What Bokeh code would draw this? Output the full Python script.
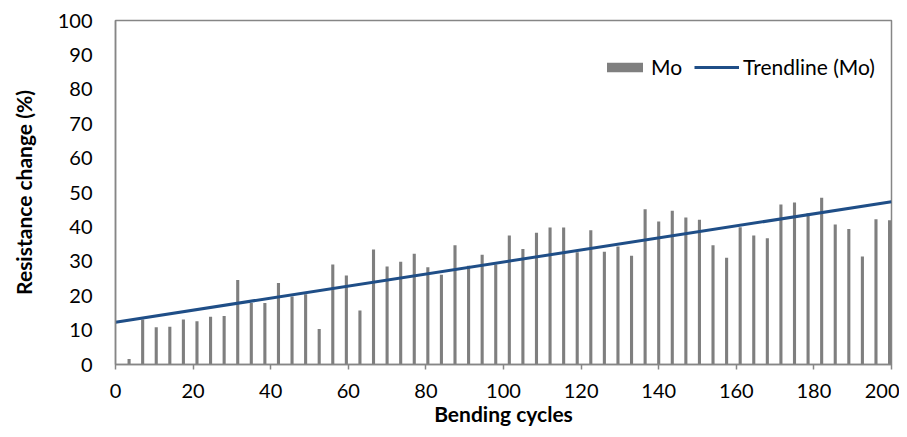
from bokeh.plotting import figure
from bokeh.models import Range1d, Legend, LegendItem, FixedTicker, ColumnDataSource
from bokeh.embed import file_html
from bokeh.resources import INLINE

# --- data ---
cycles = [3.5, 7.0, 10.5, 14.0, 17.5, 21.0, 24.5, 28.0, 31.5, 35.0,
          38.5, 42.0, 45.5, 49.0, 52.5, 56.0, 59.5, 63.0, 66.5, 70.0,
          73.5, 77.0, 80.5, 84.0, 87.5, 91.0, 94.5, 98.0, 101.5, 105.0,
          108.5, 112.0, 115.5, 119.0, 122.5, 126.0, 129.5, 133.0, 136.5, 140.0,
          143.5, 147.0, 150.5, 154.0, 157.5, 161.0, 164.5, 168.0, 171.5, 175.0,
          178.5, 182.0, 185.5, 189.0, 192.5, 196.0, 199.5]
mo_change = [1.6, 13.1, 10.8, 11.0, 13.1, 12.6, 13.9, 14.1, 24.6, 17.9,
             17.9, 23.7, 19.8, 20.4, 10.3, 29.1, 25.9, 15.7, 33.4, 28.5,
             29.9, 32.2, 28.3, 26.1, 34.7, 28.7, 31.9, 29.1, 37.5, 33.6,
             38.3, 39.8, 39.8, 32.6, 39.0, 32.8, 34.3, 31.6, 45.1, 41.6,
             44.7, 42.7, 42.1, 34.7, 31.0, 39.9, 37.5, 36.7, 46.5, 47.1,
             44.0, 48.5, 40.7, 39.4, 31.4, 42.2, 41.9]
trend_x = [0, 200]
trend_y = [12.3, 47.3]
x_ticks = [0, 20, 40, 60, 80, 100, 120, 140, 160, 180, 200]
y_ticks = [0, 10, 20, 30, 40, 50, 60, 70, 80, 90, 100]

FONT = "Lato"
GREY_AX = "#868686"

p = figure(width=899, height=429, output_backend="svg", toolbar_location=None,
           x_range=Range1d(0, 200), y_range=Range1d(0, 100))
p.min_border_left = 115
p.min_border_right = 8
p.min_border_top = 20
p.min_border_bottom = 65
p.background_fill_color = "white"
p.border_fill_color = "white"
p.outline_line_color = GREY_AX
p.outline_line_width = 1.5
p.xgrid.visible = False
p.ygrid.visible = False

src = ColumnDataSource(dict(x=cycles, y=mo_change))
bars = p.vbar(x="x", top="y", bottom=0, width=0.8, source=src,
              fill_color="#7f7f7f", line_color=None)
trend = p.line(trend_x, trend_y, line_color="#1F4E87", line_width=3)

# axes
p.xaxis.ticker = FixedTicker(ticks=x_ticks)
p.yaxis.ticker = FixedTicker(ticks=y_ticks)
for ax in (p.xaxis[0], p.yaxis[0]):
    ax.axis_line_color = GREY_AX
    ax.axis_line_width = 1.5
    ax.major_tick_line_color = GREY_AX
    ax.major_tick_line_width = 1.5
    ax.minor_tick_line_color = None
    ax.major_label_text_font = FONT
    ax.major_label_text_font_size = "20px"
    ax.major_label_text_color = "black"
    ax.axis_label_text_font = FONT
    ax.axis_label_text_font_size = "21px"
    ax.axis_label_text_font_style = "bold"
    ax.axis_label_text_color = "black"

p.xaxis.major_tick_out = 5
p.xaxis.major_tick_in = 0
p.xaxis.major_label_standoff = 14
p.xaxis.axis_label = "Bending cycles"
p.xaxis.axis_label_standoff = 0

p.yaxis.major_tick_out = 0
p.yaxis.major_tick_in = 0
p.yaxis.major_label_standoff = 23
p.yaxis.axis_label = "Resistance change (%)"
p.yaxis.axis_label_standoff = 19

legend = Legend(items=[LegendItem(label="Mo", renderers=[bars]),
                       LegendItem(label="Trendline (Mo)", renderers=[trend])],
                orientation="horizontal", location=(487, 285),
                glyph_width=45, glyph_height=12, label_height=22,
                label_standoff=4, spacing=12, padding=0, margin=0,
                border_line_color=None, background_fill_alpha=0,
                label_text_font=FONT, label_text_font_size="21px",
                label_text_color="black")
p.add_layout(legend)

open("out.html", "w").write(file_html(p, INLINE))
